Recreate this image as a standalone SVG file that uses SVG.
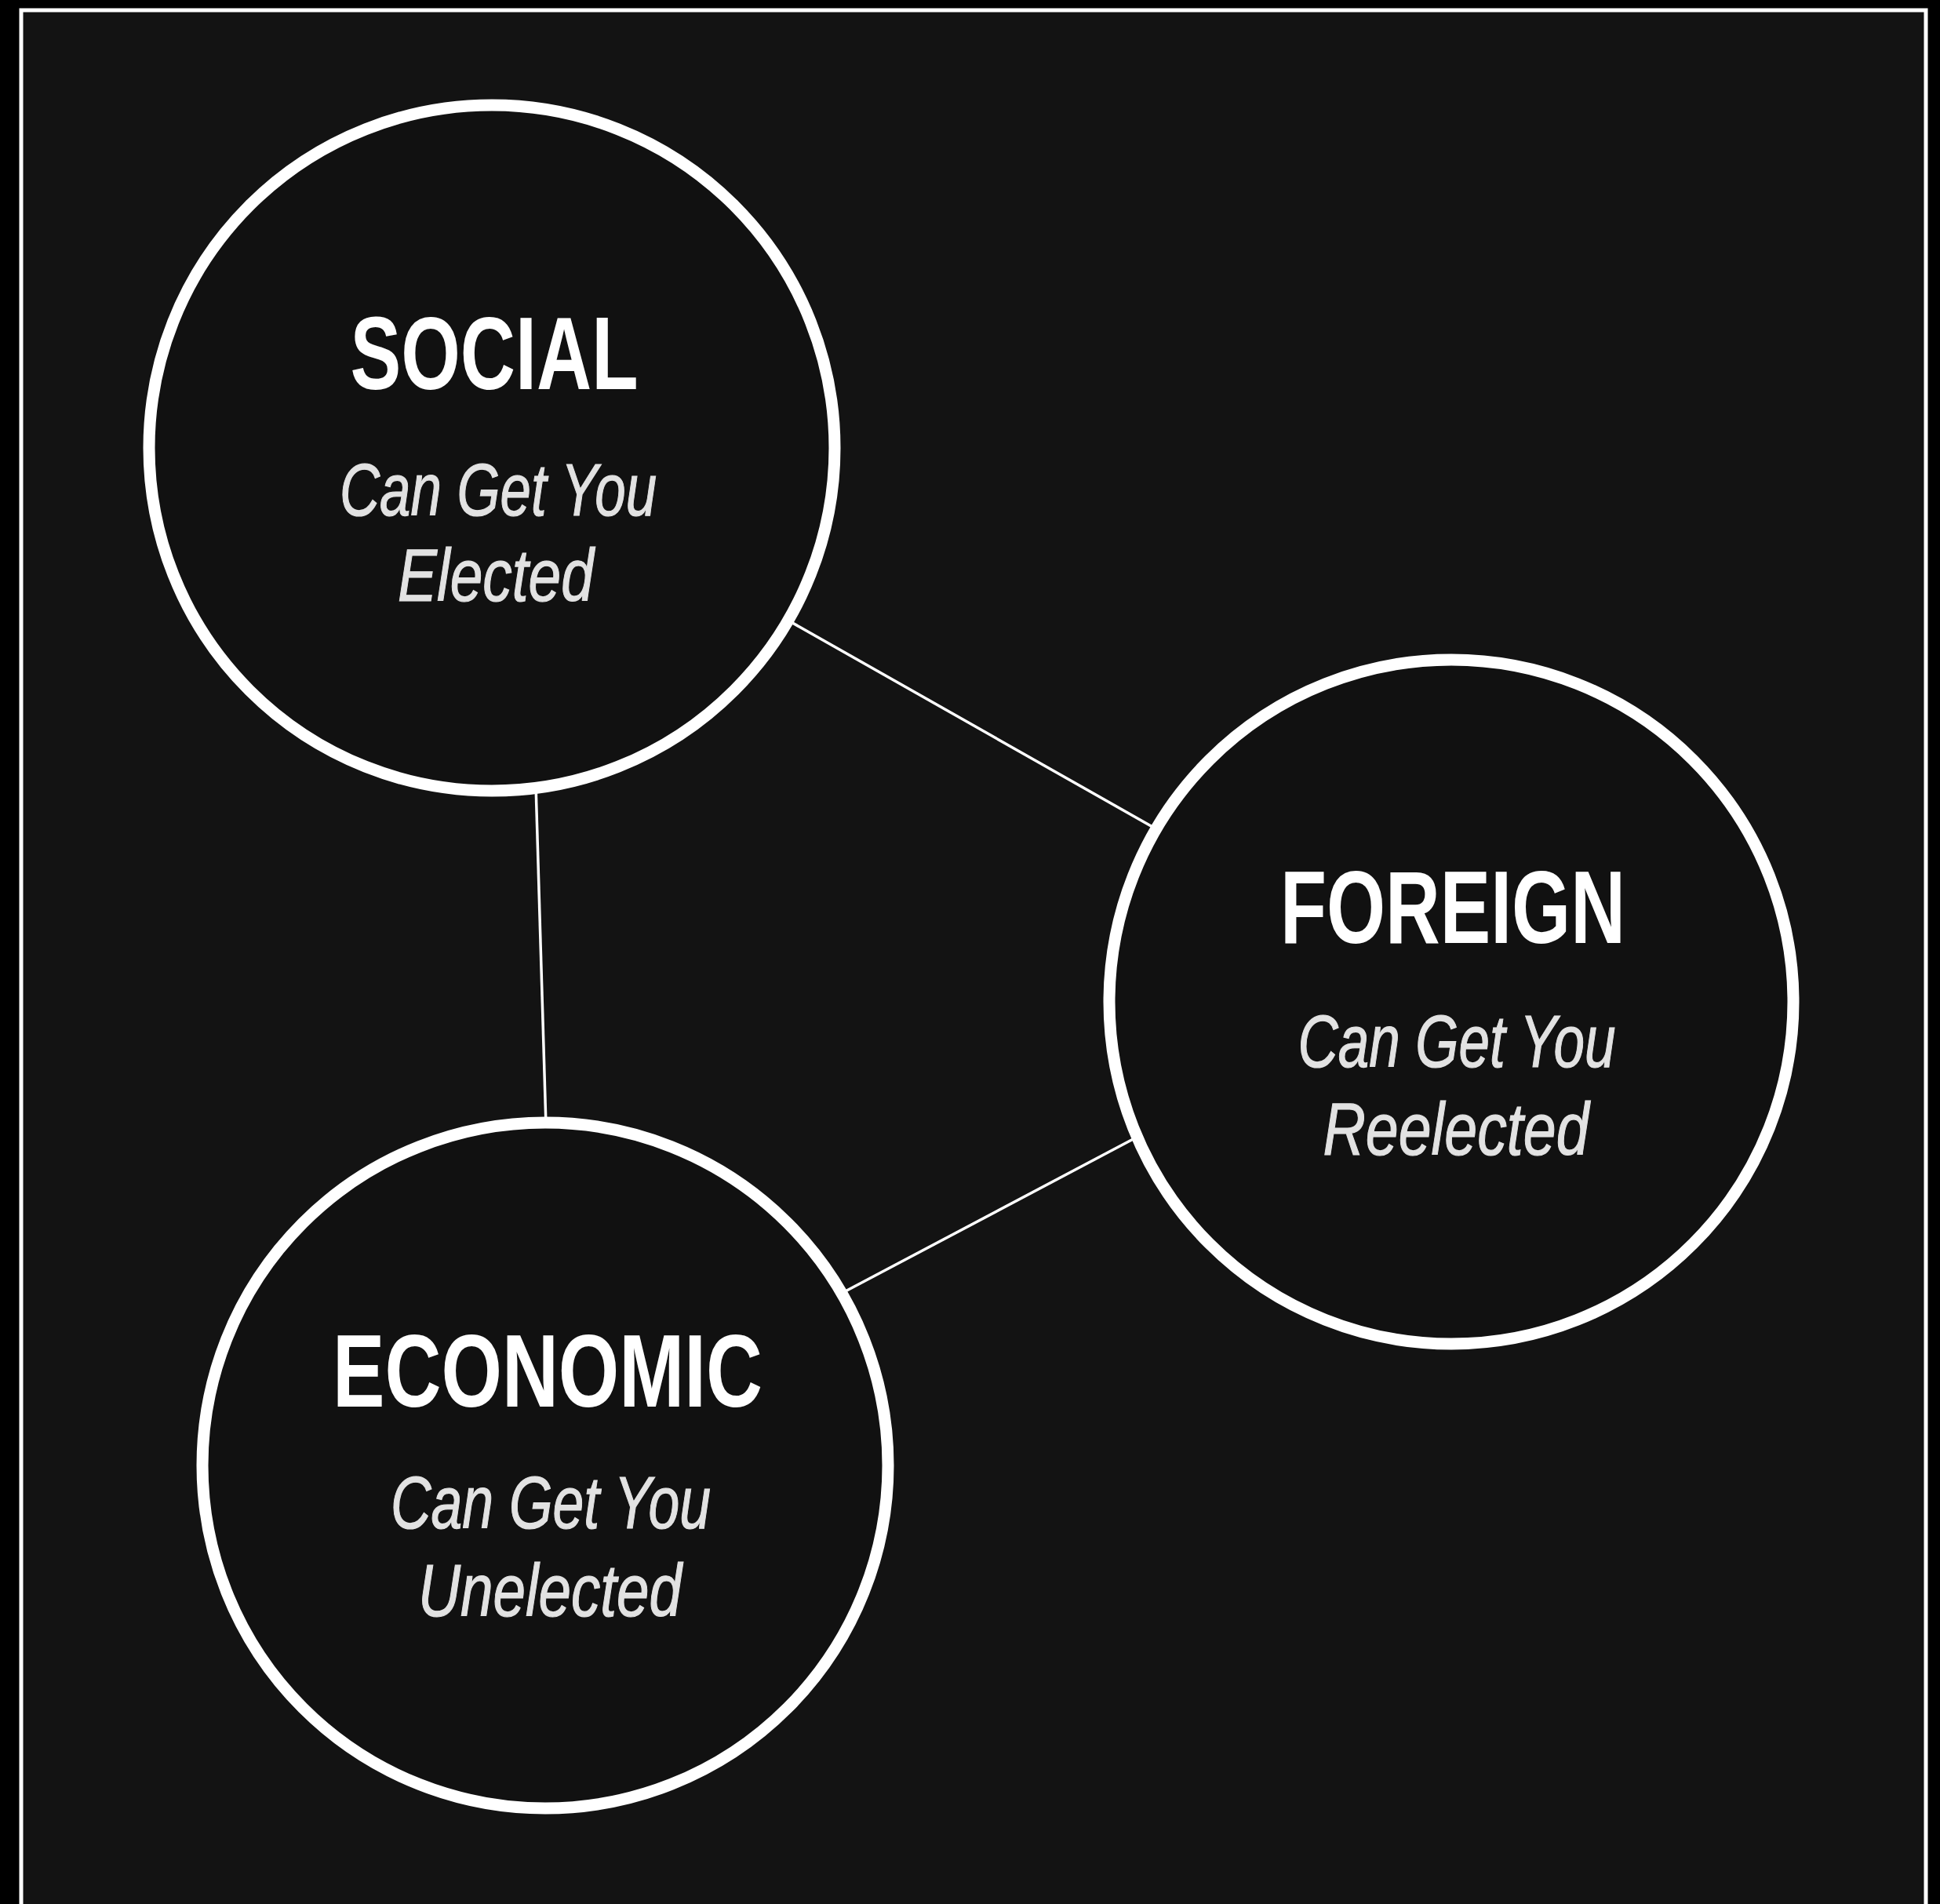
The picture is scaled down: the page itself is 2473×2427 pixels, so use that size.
<svg xmlns="http://www.w3.org/2000/svg" width="2473" height="2427" viewBox="0 0 2473 2427">
<style>
.node circle{fill:#111111;stroke:#ffffff;stroke-width:15}
.title{font-family:"Liberation Sans Narrow","Liberation Sans",Arial,sans-serif;font-weight:bold;font-size:132px;fill:#ffffff;text-anchor:middle}
.sub{font-family:"Liberation Sans Narrow","Liberation Sans",Arial,sans-serif;font-style:italic;font-size:94px;fill:#e2e2e2;stroke:#e2e2e2;stroke-width:1.2;text-anchor:middle}
.conn line{stroke:#ffffff;stroke-width:3.5}
</style>
<rect x="0" y="0" width="2473" height="2427" fill="#000000"/>
<rect x="27" y="13" width="2428" height="2440" fill="#131313" stroke="#ffffff" stroke-width="5"/>
<g id="connectors" class="conn">
<line x1="683" y1="1000" x2="696" y2="1435"/>
<line x1="1005" y1="791" x2="1478" y2="1059"/>
<line x1="1070" y1="1650" x2="1452" y2="1448"/>
</g>
<g id="social" class="node">
<circle cx="627" cy="571" r="437"/>
<text class="title" x="630" y="496" textLength="367" lengthAdjust="spacingAndGlyphs">SOCIAL</text>
<text class="sub" x="635" y="657" textLength="404" lengthAdjust="spacingAndGlyphs">Can Get You</text>
<text class="sub" x="632" y="766" textLength="250" lengthAdjust="spacingAndGlyphs">Elected</text>
</g>
<g id="foreign" class="node">
<circle cx="1850" cy="1277" r="436"/>
<text class="title" x="1852" y="1202" textLength="440" lengthAdjust="spacingAndGlyphs">FOREIGN</text>
<text class="sub" x="1857" y="1360" textLength="405" lengthAdjust="spacingAndGlyphs">Can Get You</text>
<text class="sub" x="1856" y="1472" textLength="339" lengthAdjust="spacingAndGlyphs">Reelected</text>
</g>
<g id="economic" class="node">
<circle cx="695" cy="1868" r="437"/>
<text class="title" x="698" y="1793" textLength="548" lengthAdjust="spacingAndGlyphs">ECONOMIC</text>
<text class="sub" x="702" y="1948" textLength="408" lengthAdjust="spacingAndGlyphs">Can Get You</text>
<text class="sub" x="701" y="2060" textLength="336" lengthAdjust="spacingAndGlyphs">Unelected</text>
</g>
</svg>
